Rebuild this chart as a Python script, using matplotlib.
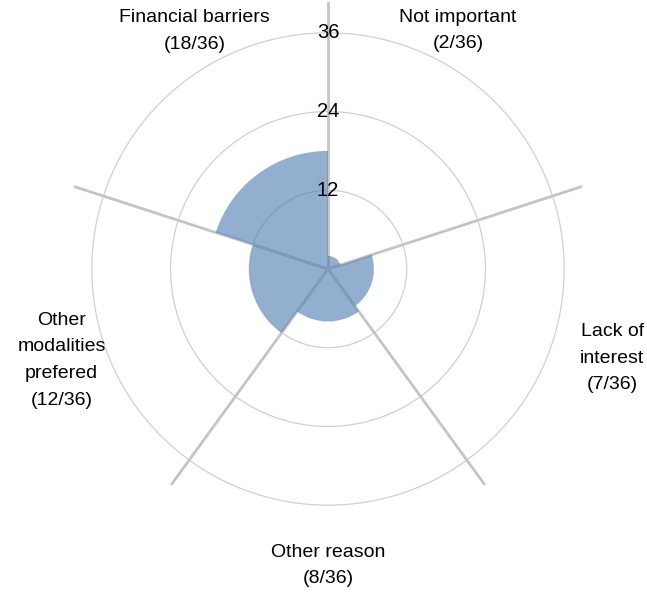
import numpy as np
import matplotlib.pyplot as plt

categories = ['Not important', 'Lack of interest', 'Other reason',
              'Other modalities prefered', 'Financial barriers']
values = [2, 7, 8, 12, 18]
total = 36
label_texts = ['Not important\n(2/36)', 'Lack of\ninterest\n(7/36)',
               'Other reason\n(8/36)', 'Other\nmodalities\nprefered\n(12/36)',
               'Financial barriers\n(18/36)']
rings = [12, 24, 36]

plt.rcParams['font.family'] = ['Liberation Sans', 'DejaVu Sans']

fig = plt.figure(figsize=(6.47, 5.93), dpi=100)
ax = fig.add_axes([61 / 647, 57 / 593, 534 / 647, 534 / 593], projection='polar')
ax.set_theta_zero_location('N')
ax.set_theta_direction(-1)

n = len(values)
width = 2 * np.pi / n
centers = np.arange(n) * width + width / 2
rmax = 40.7

# grid rings and spokes
th = np.linspace(0, 2 * np.pi, 400)
for r in rings:
    ax.plot(th, np.full_like(th, r), color='#d0d0d0', lw=0.9, zorder=1)
for k in range(n):
    ax.plot([k * width, k * width], [0, rmax], color='#c4c4c4', lw=2, zorder=1)

ax.bar(centers, values, width=width, color='#4a7ab0', alpha=0.6,
       edgecolor='none', zorder=2)

for r in rings:
    ax.text(0, r, str(r), ha='center', va='center', fontsize=14.5, zorder=3)

# label positions (angle deg clockwise from north, radius)
label_pos = [(28.6, 41.4), (107.4, 45.4), (180, 45.2), (251.1, 42.9), (330.8, 41.6)]
for txt, (a, r) in zip(label_texts, label_pos):
    ax.text(np.deg2rad(a), r, txt, ha='center', va='center', fontsize=14,
            linespacing=1.75, clip_on=False)

ax.set_ylim(0, rmax)
ax.set_xticks([])
ax.set_yticks([])
ax.grid(False)
ax.spines['polar'].set_visible(False)

fig.savefig('out.png', dpi=100)
